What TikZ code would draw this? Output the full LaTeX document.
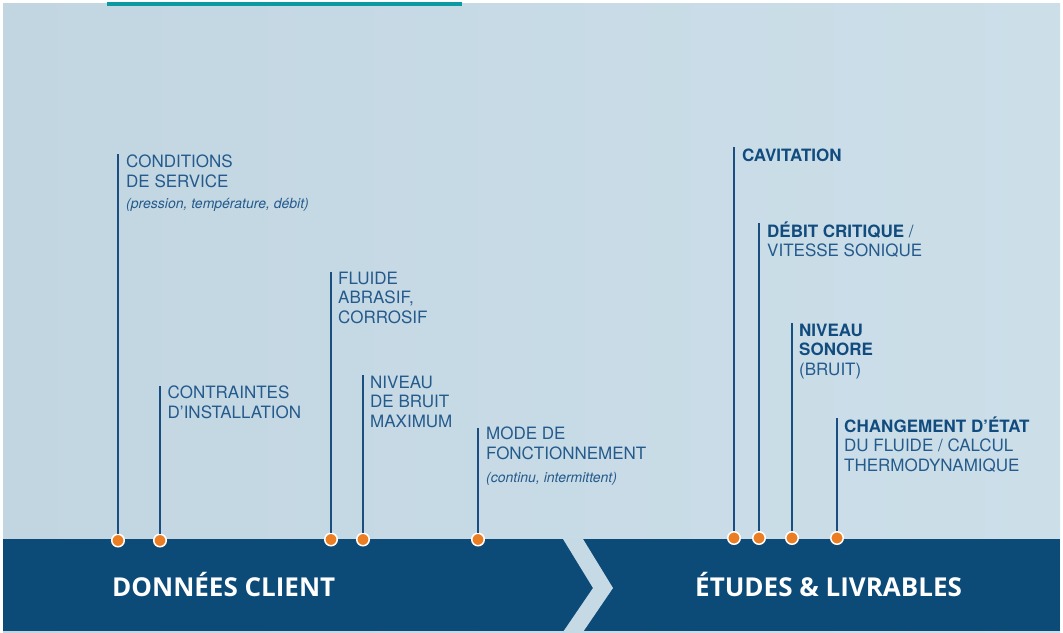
\documentclass[tikz,border=0pt]{standalone}
\usepackage{fontspec}
\setmainfont{TeX Gyre Heros}
\newfontfamily\bandefont{Open Sans}
\usetikzlibrary{positioning}
\definecolor{fondg}{HTML}{C2D6E2}
\definecolor{fondd}{HTML}{CCDFE9}
\definecolor{bande}{HTML}{0C4A78}
\definecolor{texte}{HTML}{245A8C}
\definecolor{trait}{HTML}{1B4E80}
\definecolor{gras}{HTML}{124C7E}
\definecolor{orangept}{HTML}{EB7D22}
\definecolor{sarcelle}{HTML}{0B9AA2}
\newcommand{\gr}[1]{\textcolor{gras}{\textbf{#1}}}

\begin{document}
\begin{tikzpicture}[x=1pt, y=-1pt,
  lbl/.style={anchor=base west, inner sep=0pt, align=left, text=texte, font=\fontsize{17}{19.5}\selectfont},
  sub/.style={anchor=base west, inner sep=0pt, text=texte, font=\fontsize{14}{16}\selectfont\itshape},
  titre/.style={anchor=base west, inner sep=0pt, text=white, font=\bandefont\fontsize{26}{30}\selectfont\bfseries},
  pt/.style={circle, fill=orangept, draw=white, line width=1.5pt, minimum size=12.5pt, inner sep=0pt},
  tige/.style={draw=trait, line width=1.7pt}]
\useasboundingbox (0,0) rectangle (1063,632);
\fill[white] (0,0) rectangle (1063,632);
\shade[left color=fondg, right color=fondd] (3,3) rectangle (1060,632);
\fill[sarcelle] (107,1.5) rectangle (462,5.5);
\fill[bande] (3,539) rectangle (1060,631);
\fill[fondg!60!fondd] (563,539) -- (583,539) -- (613,588) -- (583,632) -- (563,632) -- (593,588) -- cycle;

\node[titre] (dc) at (112,596) {DONNÉES CLIENT};
\node[titre] (el) at (695,596) {ÉTUDES \& LIVRABLES};

\coordinate (h1) at (118,154);
\coordinate (h2) at (160,385.5);
\coordinate (h3) at (331,272);
\coordinate (h4) at (363,375);
\coordinate (h5) at (478,428);
\coordinate (h6) at (734,147);
\coordinate (h7) at (759,223);
\coordinate (h8) at (792,323);
\coordinate (h9) at (837,418);

\node[pt] (p1) at (118,540.5) {};
\node[pt] (p2) at (160,540.5) {};
\node[pt] (p3) at (331,539.5) {};
\node[pt] (p4) at (363,539.5) {};
\node[pt] (p5) at (478,539.5) {};
\node[pt] (p6) at (734,538) {};
\node[pt] (p7) at (759,538) {};
\node[pt] (p8) at (792,538) {};
\node[pt] (p9) at (837,538) {};

\foreach \i in {1,...,9} \draw[tige] (p\i) -- (h\i);

% base = baseline of the last line
\node[lbl] (t1) at (126,187) {CONDITIONS\\DE SERVICE};
\node[sub] (t1b) at (126,208) {(pression, température, débit)};
\node[lbl] (t2) at (167.5,418) {CONTRAINTES\\D’INSTALLATION};
\node[lbl] (t3) at (338,323) {FLUIDE\\ABRASIF,\\CORROSIF};
\node[lbl] (t4) at (370,427) {NIVEAU\\DE BRUIT\\MAXIMUM};
\node[lbl] (t5) at (486,459) {MODE DE\\FONCTIONNEMENT};
\node[sub] (t5b) at (486,482) {(continu, intermittent)};
\node[lbl] (t6) at (742,161) {\gr{CAVITATION}};
\node[lbl] (t7) at (767,256.5) {\gr{DÉBIT CRITIQUE} /\\VITESSE SONIQUE};
\node[lbl] (t8) at (799,375) {\gr{NIVEAU}\\\gr{SONORE}\\(BRUIT)};
\node[lbl] (t9) at (844,471) {\gr{CHANGEMENT D’ÉTAT}\\DU FLUIDE / CALCUL\\THERMODYNAMIQUE};
\end{tikzpicture}
\end{document}
